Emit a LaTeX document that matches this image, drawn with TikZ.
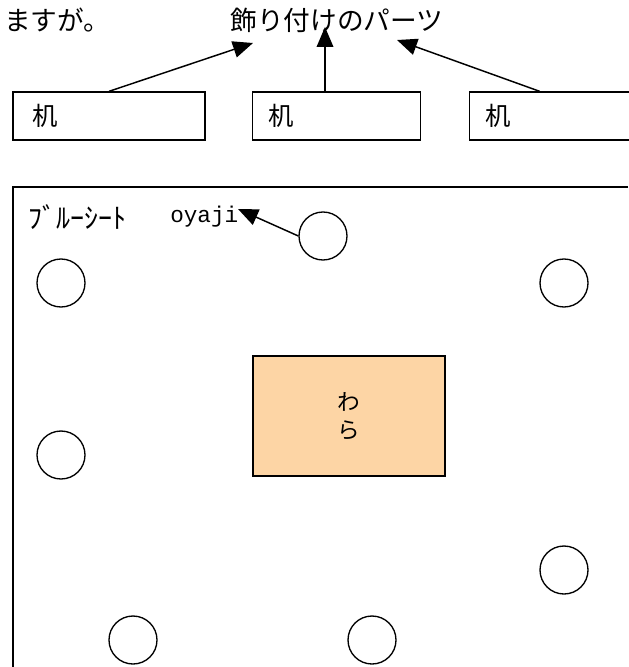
\documentclass[tikz,border=0pt]{standalone}
\usepackage{fontspec}
\newfontfamily\jpfont{Noto Sans CJK JP}
\newfontfamily\oyafont{Liberation Mono}
\usetikzlibrary{arrows.meta,positioning}
\definecolor{strawfill}{RGB}{253,213,165}

\tikzset{
  desk/.style={draw, line width=1pt, minimum height=36pt, inner sep=0pt},
  post/.style={draw, circle, line width=1pt, minimum size=36pt, inner sep=0pt},
  bigtip/.style={-{Triangle[length=15pt,width=12.5pt]}, line width=1.1pt},
  jptext/.style={font=\jpfont\fontsize{20pt}{24pt}\selectfont, inner sep=0pt}
}

\begin{document}
\begin{tikzpicture}[x=0.75pt,y=0.75pt,yscale=-1]
\useasboundingbox (0,0) rectangle (628,667);

% Text Node
\node [jptext, anchor=west] (note) at (4,20) {ますが。};
% Text Node
\node [jptext] (parts) at (337,20) {飾り付けのパーツ};

%Shape: Rectangle [desks]
\node [desk, minimum width=144pt] (desk1) at (109,116) {};
\node [desk, minimum width=126pt] (desk2) at (336.5,116) {};
\node [desk, minimum width=144pt, anchor=west] (desk3) at (469,116) {};
% Text Node
\node [jptext, font=\jpfont\fontsize{19pt}{22pt}\selectfont, anchor=west] (desk1txt) at ([xshift=15pt]desk1.west) {机};
\node [jptext, font=\jpfont\fontsize{19pt}{22pt}\selectfont, anchor=west] (desk2txt) at ([xshift=12pt]desk2.west) {机};
\node [jptext, font=\jpfont\fontsize{19pt}{22pt}\selectfont, anchor=west] (desk3txt) at ([xshift=12pt]desk3.west) {机};

%Straight Lines [arrows to parts]
\coordinate (tip1) at (253,43);
\coordinate (tip2) at (325,27);
\coordinate (tip3) at (397,40);
\draw [bigtip] (desk1.north) -- (tip1);
\draw [bigtip] (desk2.north -| tip2) -- (tip2);
\draw [bigtip] ([xshift=53pt]desk3.north west) -- (tip3);

%Shape: Blue sheet
\draw [line width=1.5pt] (628,187) -- (13,187) -- (13,667);
% Text Node
\node [font=\jpfont\fontsize{21pt}{24pt}\selectfont, inner sep=0pt, anchor=west] (sheet) at (28,217) {ﾌﾞﾙｰｼｰﾄ};
\node [font=\oyafont\fontsize{17pt}{20pt}\selectfont, inner sep=0pt, anchor=west] (oyaji) at (170,217) {oyaji};

%Shape: Circle [posts]
\node [post] (p1) at (323,236) {};
\node [post] (p2) at (61,283) {};
\node [post] (p3) at (564,283) {};
\node [post] (p4) at (61,455) {};
\node [post] (p5) at (564,570) {};
\node [post] (p6) at (133,640) {};
\node [post] (p7) at (372,640) {};

%Straight Lines [oyaji]
\coordinate (oyajitip) at (238,209);
\draw [bigtip] (p1.west) -- (oyajitip);

%Shape: Rectangle [straw]
\node [draw, line width=1.5pt, fill=strawfill, minimum width=144pt, minimum height=90pt,
  align=center, font=\jpfont\fontsize{17pt}{21pt}\selectfont] (wara) at (349,416) {わ\\ら};

\end{tikzpicture}
\end{document}
